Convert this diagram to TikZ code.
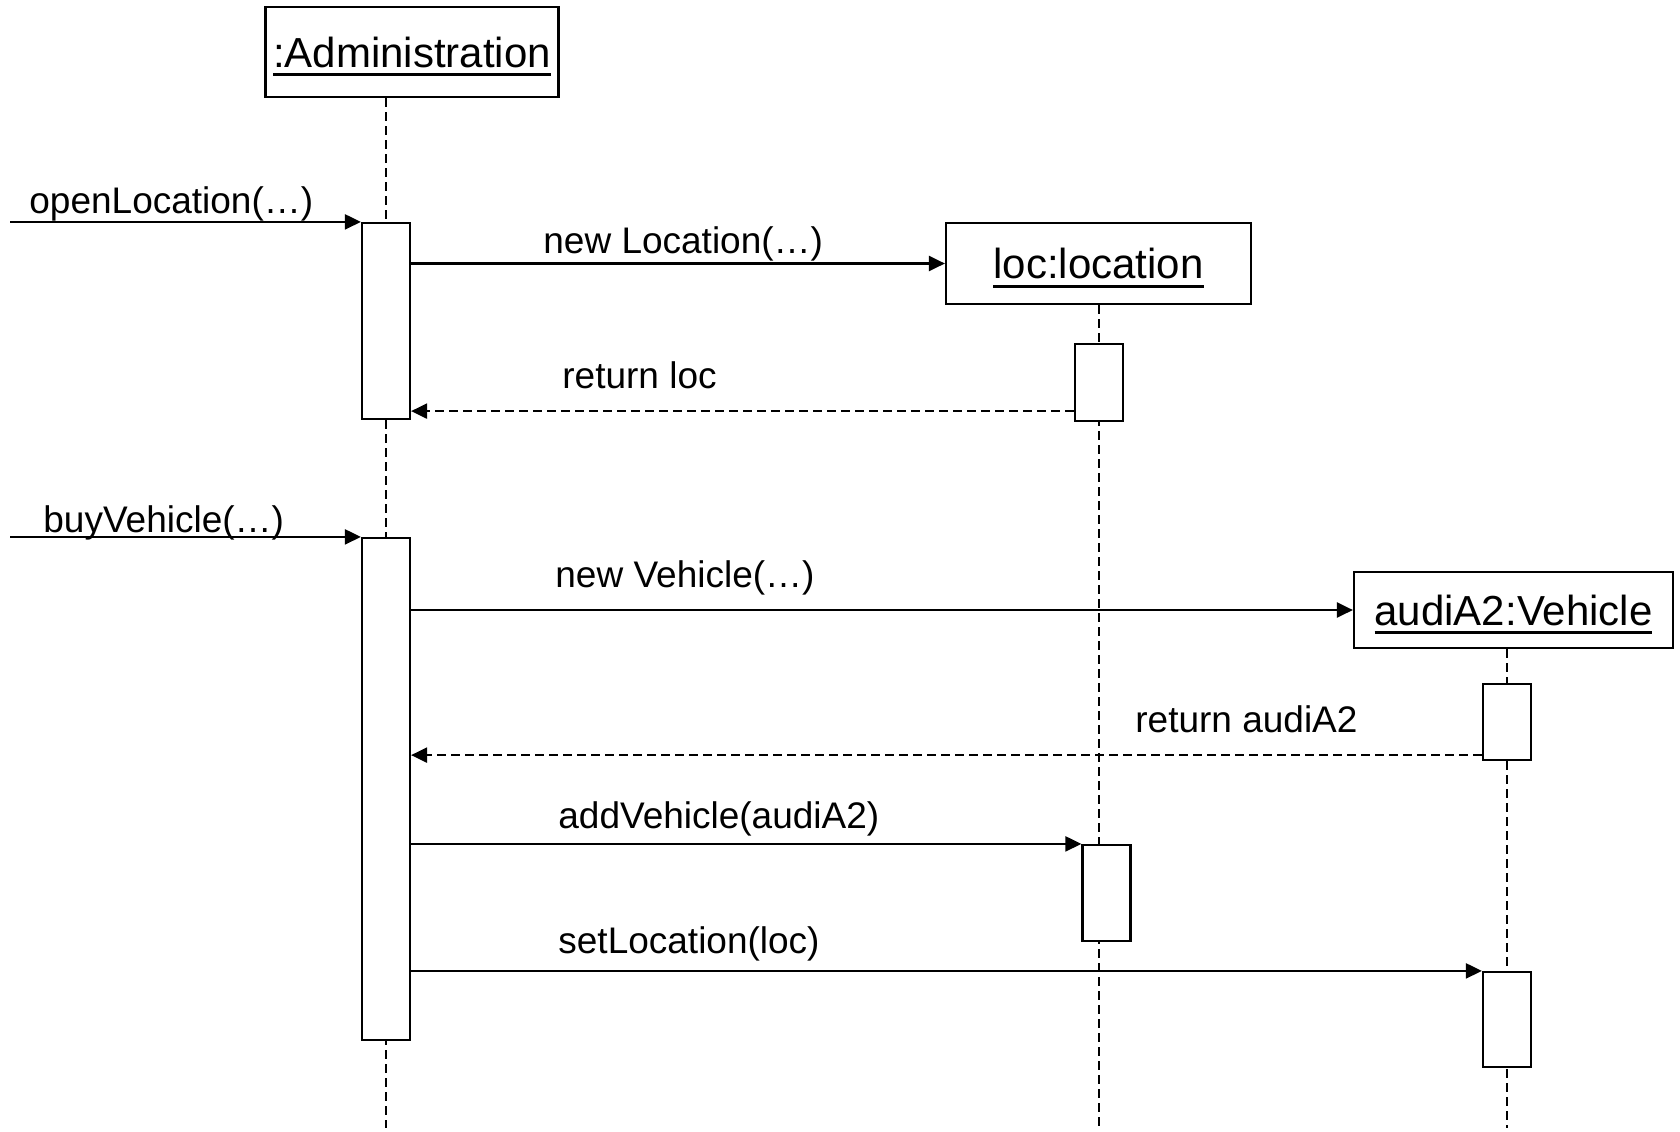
\documentclass[tikz,border=0pt]{standalone}
\usepackage{fontspec}
\setmainfont{Liberation Sans}
\usetikzlibrary{arrows.meta,backgrounds}
\newcommand{\objfont}{\fontsize{21pt}{25pt}\selectfont}
\newcommand{\msgfont}{\fontsize{18.5pt}{22pt}\selectfont}
\newcommand{\oname}[1]{\setbox0\hbox{#1}\rlap{\smash{\vrule width\wd0 height -3pt depth 4.6pt}}\box0}
\tikzset{
  obj/.style={draw,line width=1.1pt,inner sep=0pt,font=\objfont},
  act/.style={draw,line width=1.1pt,fill=white,minimum width=24pt,inner sep=0pt},
  life/.style={line width=1.1pt,dash pattern=on 4.5pt off 2.5pt},
  msg/.style={-{Triangle[length=8pt,width=7.5pt]},line width=1.1pt},
  ret/.style={msg,dash pattern=on 4.5pt off 2.5pt},
  lbl/.style={anchor=base west,inner sep=0pt,font=\msgfont},
}
\begin{document}
\begin{tikzpicture}[x=0.5pt,y=-0.5pt]
  \useasboundingbox (0,0) rectangle (1680,1131);
  % objects
  \node[obj,minimum width=146.5pt,minimum height=45pt] (admin) at (412,52) {\oname{:Administration}};
  \node[obj,minimum width=152.5pt,minimum height=40.5pt] (loc) at (1098.5,263.5) {\oname{loc:location}};
  \node[obj,minimum width=159.5pt,minimum height=38pt] (audi) at (1513.5,610) {\oname{audiA2:Vehicle}};
  % activations
  \node[act,minimum height=98pt] (act1) at (386,321) {};
  \node[act,minimum height=251pt] (act2) at (386,789) {};
  \node[act,minimum height=38.5pt] (lact1) at (1099,382.5) {};
  \node[act,minimum height=48pt] (lact2) at (1106.5,893) {};
  \node[act,minimum height=38pt] (vact1) at (1507,722) {};
  \node[act,minimum height=47.5pt] (vact2) at (1507,1019.5) {};
  \coordinate (bot) at (0,1128);
  \coordinate (in) at (10,0);
  % lifelines
  \begin{scope}[on background layer]
    \draw[life] (act1.center |- admin.south) -- (act1.center |- bot);
    \draw[life] (lact1.center |- loc.south) -- (lact1.center |- bot);
    \draw[life] (vact1.center |- audi.south) -- (vact1.center |- bot);
  \end{scope}
  % messages
  \draw[msg] (in |- act1.north west) -- (act1.north west);
  \node[lbl] (m1) at (29,213) {openLocation(…)};
  \draw[msg] (act1.east |- loc.west) -- (loc.west);
  \node[lbl] (m2) at (543,253) {new Location(…)};
  \draw[ret] ([yshift=5.5pt]lact1.south west) -- ([yshift=5.5pt]lact1.south west -| act1.east);
  \node[lbl] (m3) at (562,388) {return loc};
  \draw[msg] (in |- act2.north west) -- (act2.north west);
  \node[lbl] (m4) at (43,532) {buyVehicle(…)};
  \draw[msg] (act2.east |- audi.west) -- (audi.west);
  \node[lbl] (m5) at (555,587) {new Vehicle(…)};
  \draw[ret] ([yshift=3pt]vact1.south west) -- ([yshift=3pt]vact1.south west -| act2.east);
  \node[lbl] (m6) at (1135,732) {return audiA2};
  \draw[msg] (act2.east |- lact2.north west) -- (lact2.north west);
  \node[lbl] (m7) at (558,828) {addVehicle(audiA2)};
  \draw[msg] (act2.east |- vact2.north west) -- (vact2.north west);
  \node[lbl] (m8) at (558,953) {setLocation(loc)};
\end{tikzpicture}
\end{document}
